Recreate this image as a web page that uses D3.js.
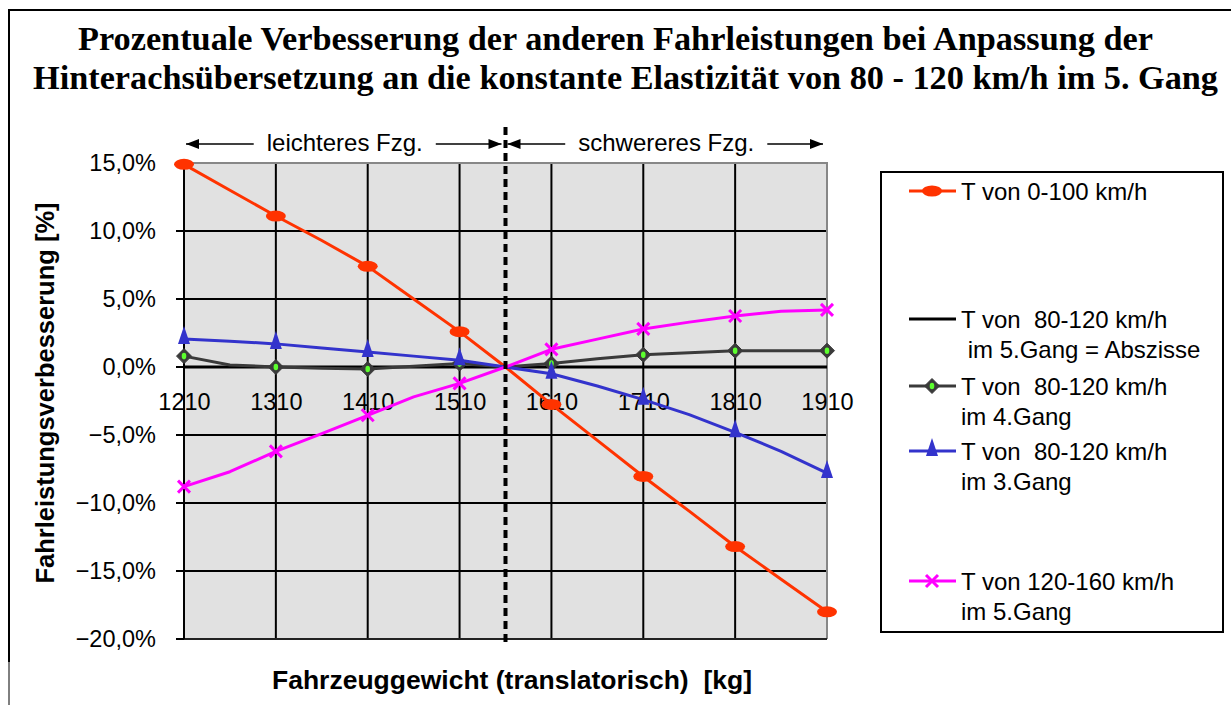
<!DOCTYPE html>
<html>
<head>
<meta charset="utf-8">
<script src="https://cdn.jsdelivr.net/npm/d3@7"></script>
<style>
  html, body { margin: 0; padding: 0; background: #fff; }
  svg { display: block; font-family: "Liberation Sans", Arial, sans-serif; }
</style>
</head>
<body>
<svg id="chart" width="1231" height="705"></svg>
<script>
// Vehicle weight (translational) in kg
const weights = [1210, 1260, 1310, 1360, 1410, 1460, 1510, 1560, 1610, 1660, 1710, 1760, 1810, 1860, 1910];

// Percentage improvement of driving performance [%]
const accel0to100     = [14.9, 13.0, 11.1, 9.3, 7.4, 5.0, 2.6, 0, -2.75, -5.4, -8.05, -10.6, -13.2, -15.6, -18.0];
const elast80to120g5  = [0, 0, 0, 0, 0, 0, 0, 0, 0, 0, 0, 0, 0, 0, 0];
const elast80to120g4  = [0.8, 0.15, 0.0, -0.1, -0.15, 0.05, 0.25, 0, 0.25, 0.6, 0.9, 1.05, 1.2, 1.2, 1.2];
const elast80to120g3  = [2.05, 1.9, 1.7, 1.4, 1.1, 0.8, 0.5, 0, -0.5, -1.4, -2.4, -3.5, -4.8, -6.2, -7.8];
const elast120to160g5 = [-8.8, -7.7, -6.2, -4.9, -3.55, -2.2, -1.2, 0, 1.3, 2.05, 2.8, 3.3, 3.75, 4.1, 4.2];

// Axis ticks
const xTickValues = [1210, 1310, 1410, 1510, 1610, 1710, 1810, 1910];
const yTickValues = [-20, -15, -10, -5, 0, 5, 10, 15];

// Boundary between lighter and heavier vehicles
const splitWeight = 1560;

const titleLines = [
  "Prozentuale Verbesserung der anderen Fahrleistungen bei Anpassung der",
  "Hinterachsübersetzung an die konstante Elastizität von 80 - 120 km/h im 5. Gang"
];
const yAxisTitle = "Fahrleistungsverbesserung [%]";
const xAxisTitle = "Fahrzeuggewicht (translatorisch)  [kg]";
const leftRegionLabel = "leichteres Fzg.";
const rightRegionLabel = "schwereres Fzg.";

// Series table (drawing order = stacking order)
const series = [
  { values: accel0to100,     color: "#ff3300", marker: "ellipse",  legend: ["T von 0-100 km/h"] },
  { values: elast80to120g5,  color: "#000000", marker: null,       legend: ["T von  80-120 km/h", " im 5.Gang = Abszisse"] },
  { values: elast80to120g4,  color: "#3a3a3a", marker: "diamond",  legend: ["T von  80-120 km/h", "im 4.Gang"] },
  { values: elast80to120g3,  color: "#3333cc", marker: "triangle", legend: ["T von  80-120 km/h", "im 3.Gang"] },
  { values: elast120to160g5, color: "#ff00ff", marker: "cross",    legend: ["T von 120-160 km/h", "im 5.Gang"] }
];
const legendRows = [191, 319, 386, 451, 581];

const svg = d3.select("#chart");

// Outer frame (top and left edges)
svg.append("path").attr("d", "M9,662 V10 H1231")
  .attr("fill", "none").attr("stroke", "#000").attr("stroke-width", 2);
svg.append("line").attr("x1", 9).attr("x2", 9).attr("y1", 662).attr("y2", 705)
  .attr("stroke", "#000").attr("stroke-width", 1);

// Title (two lines, fitted to their widths)
const titleGeom = [{ x: 78, w: 1075, y: 50 }, { x: 33, w: 1185, y: 89 }];
svg.append("g").selectAll("text").data(titleLines).join("text")
  .attr("x", (d, i) => titleGeom[i].x).attr("y", (d, i) => titleGeom[i].y)
  .attr("textLength", (d, i) => titleGeom[i].w).attr("lengthAdjust", "spacingAndGlyphs")
  .attr("font-family", "'Liberation Serif', 'Times New Roman', serif")
  .attr("font-weight", "bold").attr("font-size", 33)
  .text(d => d);

// Scales
const x = d3.scaleLinear().domain([1210, 1910]).range([184, 827]);
const y = d3.scaleLinear().domain([-20, 15]).range([639, 163]);
const [x0, x1] = x.range();
const [yBottom, yTop] = y.range();

// Plot area
svg.append("rect").attr("x", x0).attr("y", yTop)
  .attr("width", x1 - x0).attr("height", yBottom - yTop)
  .attr("fill", "#e1e1e1");

// Grid
const grid = svg.append("g");
grid.selectAll(".hg").data(yTickValues).join("line")
  .attr("x1", x0 - 8).attr("x2", x1).attr("y1", d => y(d)).attr("y2", d => y(d))
  .attr("stroke", "#000").attr("stroke-width", 2);
grid.selectAll(".vg").data(xTickValues.slice(0, -1)).join("line")
  .attr("x1", d => x(d)).attr("x2", d => x(d)).attr("y1", yTop).attr("y2", yBottom)
  .attr("stroke", "#000").attr("stroke-width", 2);
// plot border: gray on top and right
svg.append("path").attr("d", `M${x0},${yTop} H${x1} V${yBottom}`)
  .attr("fill", "none").attr("stroke", "#878787").attr("stroke-width", 2);
svg.append("line").attr("x1", x0).attr("x2", x1).attr("y1", yBottom).attr("y2", yBottom)
  .attr("stroke", "#222").attr("stroke-width", 2);

// Y axis labels
const fmtPct = d => d3.format(".1f")(d).replace(".", ",") + "%";
const yAxis = d3.axisLeft(y).tickValues(yTickValues).tickFormat(fmtPct).tickSize(0).tickPadding(28);
const gy = svg.append("g").attr("transform", `translate(${x0},0)`).call(yAxis);
gy.select(".domain").remove();
gy.selectAll("text").attr("font-size", 23.5).attr("font-family", "'Liberation Sans', Arial, sans-serif").attr("fill", "#000");

// X axis labels along the zero line
const xAxis = d3.axisBottom(x).tickValues(xTickValues).tickFormat(d3.format("d")).tickSize(0).tickPadding(26);
const gx = svg.append("g").attr("transform", `translate(0,${y(0)})`).call(xAxis);
gx.select(".domain").remove();
gx.selectAll("text").attr("font-size", 23.5).attr("font-family", "'Liberation Sans', Arial, sans-serif").attr("fill", "#000");

// Y axis line
svg.append("line").attr("x1", x0).attr("x2", x0).attr("y1", yTop).attr("y2", yBottom)
  .attr("stroke", "#000").attr("stroke-width", 2);

// Markers
function drawMarker(g, type, cx, cy, color) {
  if (type === "ellipse") {
    g.append("ellipse").attr("cx", cx).attr("cy", cy).attr("rx", 10).attr("ry", 5.5).attr("fill", color);
  } else if (type === "diamond") {
    g.append("path").attr("d", `M${cx},${cy - 7.5} L${cx + 7.5},${cy} L${cx},${cy + 7.5} L${cx - 7.5},${cy} Z`)
      .attr("fill", "#3a3a3a").attr("stroke", "#3a3a3a").attr("stroke-width", 1);
    g.append("ellipse").attr("cx", cx).attr("cy", cy).attr("rx", 2.3).attr("ry", 3.3).attr("fill", "#5cff2e");
  } else if (type === "triangle") {
    g.append("path").attr("d", `M${cx},${cy - 13} L${cx + 6},${cy + 5} L${cx - 6},${cy + 5} Z`).attr("fill", color);
  } else if (type === "cross") {
    g.append("path").attr("d", `M${cx - 6},${cy - 6} L${cx + 6},${cy + 6} M${cx + 6},${cy - 6} L${cx - 6},${cy + 6}`)
      .attr("stroke", color).attr("stroke-width", 3).attr("fill", "none");
  }
}

// Series lines and markers
const lineGen = d3.line().x(d => x(d[0])).y(d => y(d[1]));
series.forEach(s => {
  const pts = weights.map((w, i) => [w, s.values[i]]);
  const g = svg.append("g");
  g.append("path").datum(pts).attr("d", lineGen)
    .attr("fill", "none").attr("stroke", s.color).attr("stroke-width", 3)
    .attr("stroke-linejoin", "round");
  if (s.marker) {
    pts.filter(p => xTickValues.includes(p[0]))
      .forEach(p => drawMarker(g, s.marker, x(p[0]), y(p[1]), s.color));
  }
});

// Dashed boundary line
svg.append("line").attr("x1", x(splitWeight)).attr("x2", x(splitWeight))
  .attr("y1", 127).attr("y2", yBottom + 3)
  .attr("stroke", "#000").attr("stroke-width", 4).attr("stroke-dasharray", "8,5");

// Region annotations with arrows
function arrowHead(g, tipX, yy, dir) {
  g.append("path").attr("d", `M${tipX},${yy} L${tipX - dir * 13},${yy - 5} L${tipX - dir * 13},${yy + 5} Z`)
    .attr("fill", "#000");
}
function regionLabel(fromW, toW, label) {
  const g = svg.append("g");
  const a = x(fromW) + 2, b = x(toW) - 4;
  const mid = (x(fromW) + x(toW)) / 2;
  const t = g.append("text").attr("x", mid).attr("y", 142)
    .attr("text-anchor", "middle").attr("dominant-baseline", "central")
    .attr("font-size", 24).text(label);
  const half = t.node().getComputedTextLength() / 2;
  const ay = 144;
  g.append("line").attr("x1", a).attr("x2", mid - half - 13).attr("y1", ay).attr("y2", ay)
    .attr("stroke", "#000").attr("stroke-width", 1.5);
  g.append("line").attr("x1", mid + half + 13).attr("x2", b).attr("y1", ay).attr("y2", ay)
    .attr("stroke", "#000").attr("stroke-width", 1.5);
  arrowHead(g, a, ay, -1);
  arrowHead(g, b, ay, 1);
}
regionLabel(1210, splitWeight, leftRegionLabel);
regionLabel(splitWeight, 1910, rightRegionLabel);

// Axis titles
svg.append("text").attr("transform", "translate(45,393) rotate(-90)")
  .attr("text-anchor", "middle").attr("dominant-baseline", "central")
  .attr("font-size", 25.5).attr("font-weight", "bold").text(yAxisTitle);
svg.append("text").attr("x", 512).attr("y", 689)
  .attr("text-anchor", "middle").style("white-space", "pre")
  .attr("font-size", 26.5).attr("font-weight", "bold").text(xAxisTitle);

// Legend
const lg = svg.append("g");
lg.append("rect").attr("x", 881).attr("y", 172).attr("width", 342).attr("height", 460)
  .attr("fill", "#fff").attr("stroke", "#000").attr("stroke-width", 2);
series.forEach((s, i) => {
  const ly = legendRows[i];
  lg.append("line").attr("x1", 909).attr("x2", 956).attr("y1", ly).attr("y2", ly)
    .attr("stroke", s.color).attr("stroke-width", 3);
  if (s.marker) drawMarker(lg, s.marker, 932, ly, s.color);
  s.legend.forEach((txt, j) => {
    lg.append("text").attr("x", 961).attr("y", ly + j * 30)
      .attr("dominant-baseline", "central").style("white-space", "pre")
      .attr("font-size", 24).text(txt);
  });
});
</script>
</body>
</html>
